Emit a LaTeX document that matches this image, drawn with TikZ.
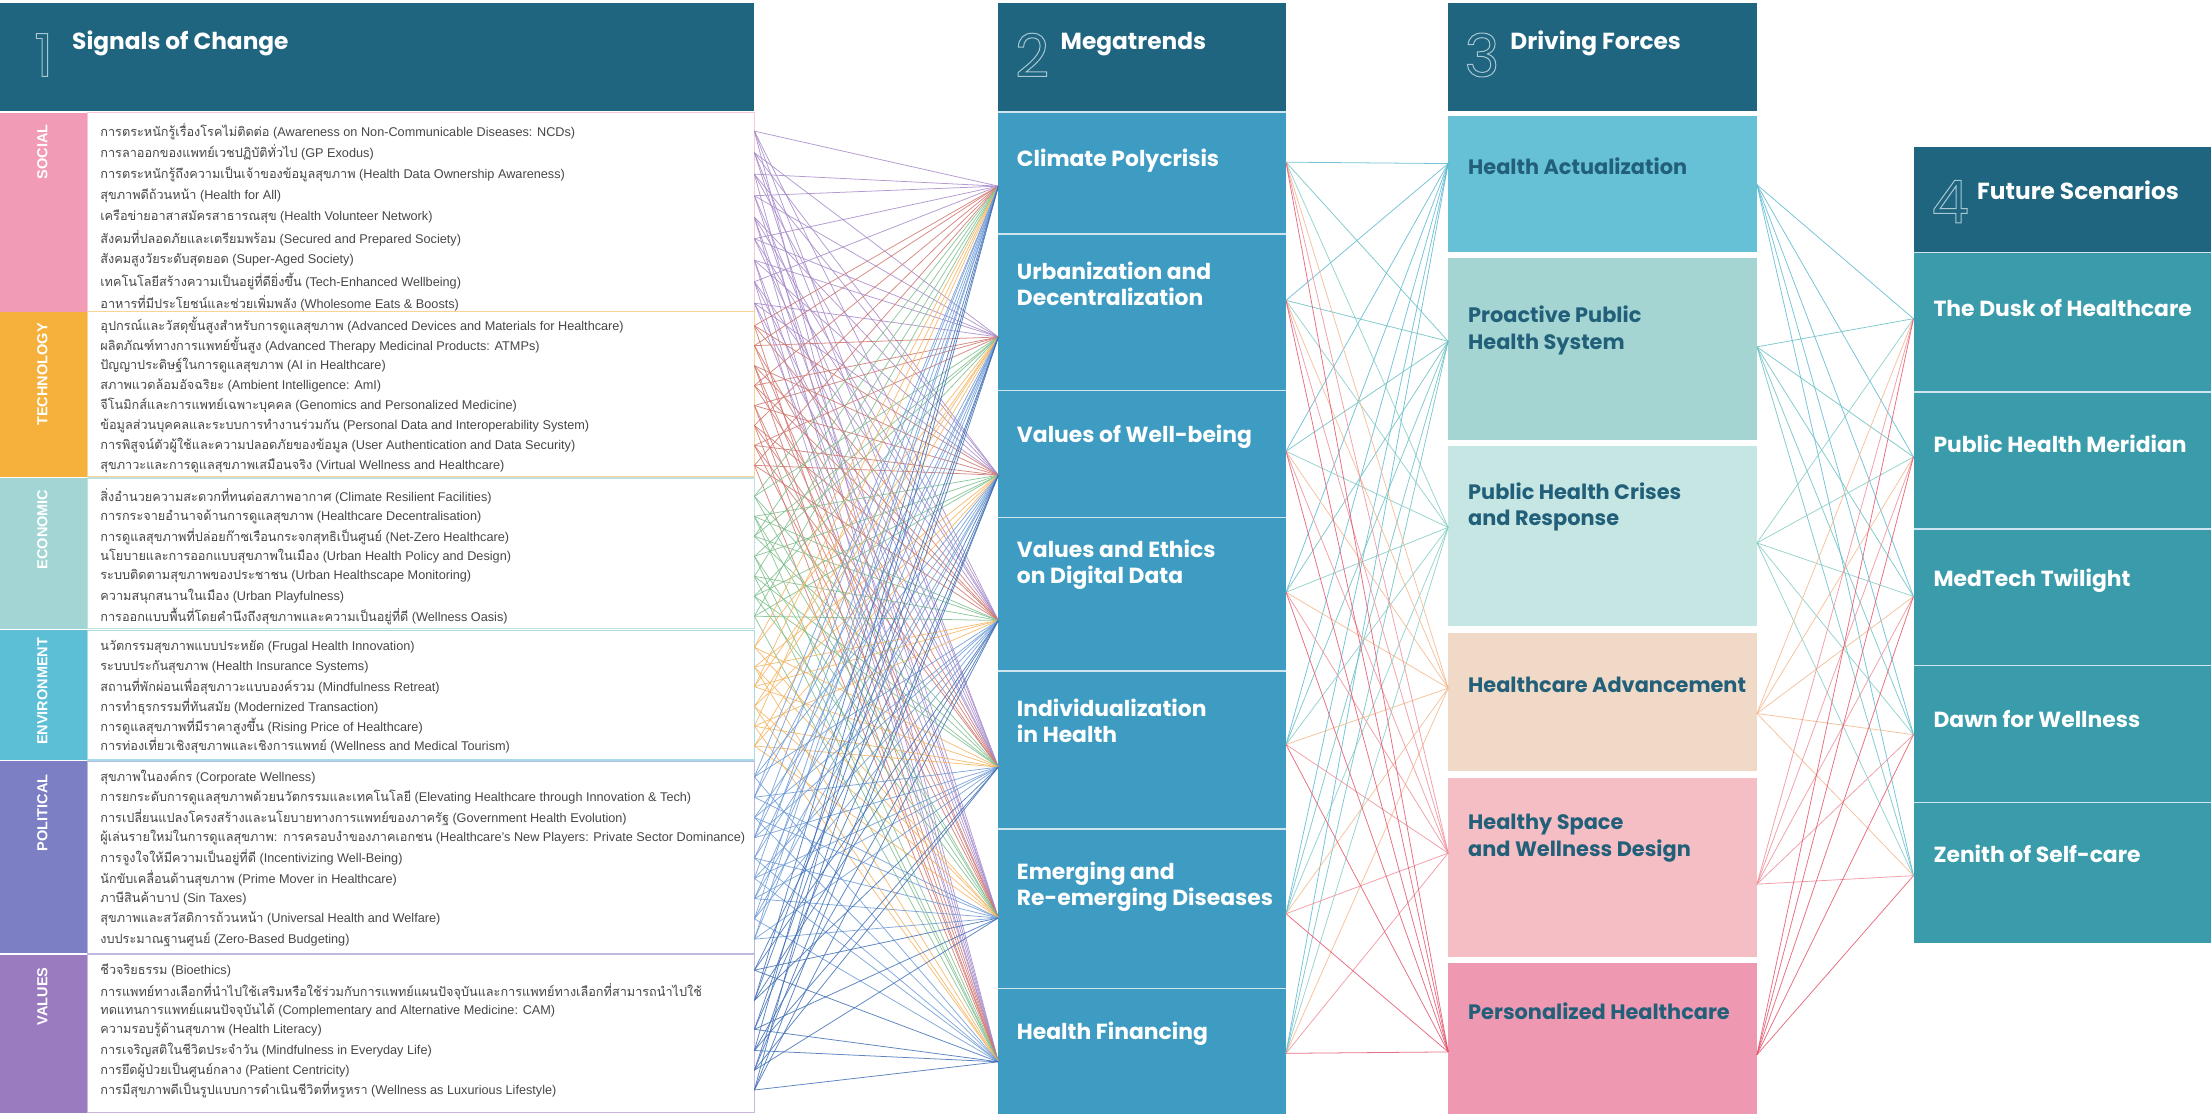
\documentclass[tikz,border=0pt]{standalone}
\usepackage{fontspec}
\setmainfont{Liberation Sans}
\newfontfamily\thaifont[Script=Thai]{Loma}
\newfontfamily\headfont{Poppins}
\usetikzlibrary{positioning}

% colours
\definecolor{headcol}{HTML}{1F6580}
\definecolor{numline}{HTML}{A9C8D4}
\definecolor{itemgray}{HTML}{474747}
\definecolor{soccol}{HTML}{F29BB6}
\definecolor{teccol}{HTML}{F6B13D}
\definecolor{ecocol}{HTML}{A3D5D4}
\definecolor{envcol}{HTML}{5CBFD6}
\definecolor{polcol}{HTML}{7C7FC3}
\definecolor{valcol}{HTML}{9B7BBF}
\definecolor{megacol}{HTML}{3E9CC2}
\definecolor{futcol}{HTML}{3A9CAB}
\definecolor{hacol}{HTML}{66C1D6}
\definecolor{procol}{HTML}{A4D5D3}
\definecolor{phccol}{HTML}{C6E6E4}
\definecolor{hcacol}{HTML}{F1D9C8}
\definecolor{hscol}{HTML}{F4BEC4}
\definecolor{phcol}{HTML}{EF98B1}
\definecolor{dftext}{HTML}{22607A}
\definecolor{linesoc}{HTML}{A68AC9}
\definecolor{linetec}{HTML}{D0766F}
\definecolor{lineeco}{HTML}{7FBE8C}
\definecolor{lineenv}{HTML}{F4B45F}
\definecolor{linepol}{HTML}{6E9BD6}
\definecolor{lineval}{HTML}{4070B5}
\definecolor{lineha}{HTML}{5DB9D0}
\definecolor{linepro}{HTML}{6CC0C4}
\definecolor{linephc}{HTML}{86CCC6}
\definecolor{linehca}{HTML}{F2B88C}
\definecolor{linehs}{HTML}{EE8F99}
\definecolor{lineph}{HTML}{E2566D}

\newcommand{\sig}[2]{{\thaifont #1} (#2)}
\newcommand{\outl}[1]{\special{pdf:literal direct 1 Tr 0.7 w}#1\special{pdf:literal direct 0 Tr}}

\tikzset{
  box/.style={anchor=north west, inner sep=0, outer sep=0},
  item/.style={anchor=west, inner sep=0, align=left, text=itemgray, font=\fontsize{9}{13}\selectfont},
  sidetxt/.style={rotate=90, anchor=east, inner sep=0, text=white, font=\bfseries\fontsize{10.3}{11}\selectfont},
  headtxt/.style={anchor=west, inner sep=0, text=white, font=\headfont\bfseries\fontsize{16.5}{18}\selectfont},
  numtxt/.style={inner sep=0, text=numline, font=\headfont\fontsize{42}{42}\selectfont},
  megatxt/.style={anchor=west, inner sep=0, align=left, text=white, font=\headfont\bfseries\fontsize{15.5}{18.5}\selectfont},
  dftxt/.style={anchor=west, inner sep=0, align=left, text=dftext, font=\headfont\bfseries\fontsize{14.8}{19}\selectfont},
  futtxt/.style={anchor=west, inner sep=0, text=white, font=\headfont\bfseries\fontsize{15.5}{18}\selectfont},
  sepline/.style={white!75!megacol, line width=1.2},
  link/.style={line width=0.55, opacity=0.85}
}

\begin{document}
\begin{tikzpicture}[x=1pt,y=-1pt]
\useasboundingbox (0,0) rectangle (1568,790);

% 1 signals of change
\node[box, fill=headcol, minimum width=535, minimum height=77] (h1) at (0,2) {};
\node[numtxt] (n1) at (31,39) {\outl{1}};
\node[headtxt] (h1t) at (51,31) {Signals of Change};

\node[box, fill=white, draw=soccol!55!white, line width=0.8, minimum width=473, minimum height=141] (socbox) at (62,80) {};
\fill[soccol] (0,80) rectangle (62,221);
\node[sidetxt] (socl) at (30,88) {SOCIAL};
\node[item] (soc1) at (71,93) {\sig{การตระหนักรู้เรื่องโรคไม่ติดต่อ}{Awareness on Non-Communicable Diseases: NCDs}};
\node[item] (soc2) at (71,108.3) {\sig{การลาออกของแพทย์เวชปฏิบัติทั่วไป}{GP Exodus}};
\node[item] (soc3) at (71,123.5) {\sig{การตระหนักรู้ถึงความเป็นเจ้าของข้อมูลสุขภาพ}{Health Data Ownership Awareness}};
\node[item] (soc4) at (71,138.8) {\sig{สุขภาพดีถ้วนหน้า}{Health for All}};
\node[item] (soc5) at (71,154) {\sig{เครือข่ายอาสาสมัครสาธารณสุข}{Health Volunteer Network}};
\node[item] (soc6) at (71,169.3) {\sig{สังคมที่ปลอดภัยและเตรียมพร้อม}{Secured and Prepared Society}};
\node[item] (soc7) at (71,184.5) {\sig{สังคมสูงวัยระดับสุดยอด}{Super-Aged Society}};
\node[item] (soc8) at (71,199.8) {\sig{เทคโนโลยีสร้างความเป็นอยู่ที่ดียิ่งขึ้น}{Tech-Enhanced Wellbeing}};
\node[item] (soc9) at (71,215) {\sig{อาหารที่มีประโยชน์และช่วยเพิ่มพลัง}{Wholesome Eats \& Boosts}};

\node[box, fill=white, draw=teccol!55!white, line width=0.8, minimum width=473, minimum height=117] (tecbox) at (62,221) {};
\fill[teccol] (0,221) rectangle (62,338);
\node[sidetxt] (tecl) at (30,229) {TECHNOLOGY};
\node[item] (tec1) at (71,231) {\sig{อุปกรณ์และวัสดุขั้นสูงสำหรับการดูแลสุขภาพ}{Advanced Devices and Materials for Healthcare}};
\node[item] (tec2) at (71,245.1) {\sig{ผลิตภัณฑ์ทางการแพทย์ขั้นสูง}{Advanced Therapy Medicinal Products: ATMPs}};
\node[item] (tec3) at (71,259.3) {\sig{ปัญญาประดิษฐ์ในการดูแลสุขภาพ}{AI in Healthcare}};
\node[item] (tec4) at (71,273.4) {\sig{สภาพแวดล้อมอัจฉริยะ}{Ambient Intelligence: AmI}};
\node[item] (tec5) at (71,287.6) {\sig{จีโนมิกส์และการแพทย์เฉพาะบุคคล}{Genomics and Personalized Medicine}};
\node[item] (tec6) at (71,301.7) {\sig{ข้อมูลส่วนบุคคลและระบบการทำงานร่วมกัน}{Personal Data and Interoperability System}};
\node[item] (tec7) at (71,315.9) {\sig{การพิสูจน์ตัวผู้ใช้และความปลอดภัยของข้อมูล}{User Authentication and Data Security}};
\node[item] (tec8) at (71,330) {\sig{สุขภาวะและการดูแลสุขภาพเสมือนจริง}{Virtual Wellness and Healthcare}};

\node[box, fill=white, draw=ecocol!70!white, line width=0.8, minimum width=473, minimum height=107] (ecobox) at (62,339) {};
\fill[ecocol] (0,339) rectangle (62,446);
\node[sidetxt] (ecol) at (30,347) {ECONOMIC};
\node[item] (eco1) at (71,352) {\sig{สิ่งอำนวยความสะดวกที่ทนต่อสภาพอากาศ}{Climate Resilient Facilities}};
\node[item] (eco2) at (71,366.2) {\sig{การกระจายอำนาจด้านการดูแลสุขภาพ}{Healthcare Decentralisation}};
\node[item] (eco3) at (71,380.3) {\sig{การดูแลสุขภาพที่ปล่อยก๊าซเรือนกระจกสุทธิเป็นศูนย์}{Net-Zero Healthcare}};
\node[item] (eco4) at (71,394.5) {\sig{นโยบายและการออกแบบสุขภาพในเมือง}{Urban Health Policy and Design}};
\node[item] (eco5) at (71,408.7) {\sig{ระบบติดตามสุขภาพของประชาชน}{Urban Healthscape Monitoring}};
\node[item] (eco6) at (71,422.8) {\sig{ความสนุกสนานในเมือง}{Urban Playfulness}};
\node[item] (eco7) at (71,437) {\sig{การออกแบบพื้นที่โดยคำนึงถึงสุขภาพและความเป็นอยู่ที่ดี}{Wellness Oasis}};

\node[box, fill=white, draw=envcol!55!white, line width=0.8, minimum width=473, minimum height=92] (envbox) at (62,447) {};
\fill[envcol] (0,447) rectangle (62,539);
\node[sidetxt] (envl) at (30,452) {ENVIRONMENT};
\node[item] (env1) at (71,459) {\sig{นวัตกรรมสุขภาพแบบประหยัด}{Frugal Health Innovation}};
\node[item] (env2) at (71,473) {\sig{ระบบประกันสุขภาพ}{Health Insurance Systems}};
\node[item] (env3) at (71,487) {\sig{สถานที่พักผ่อนเพื่อสุขภาวะแบบองค์รวม}{Mindfulness Retreat}};
\node[item] (env4) at (71,501) {\sig{การทำธุรกรรมที่ทันสมัย}{Modernized Transaction}};
\node[item] (env5) at (71,515) {\sig{การดูแลสุขภาพที่มีราคาสูงขึ้น}{Rising Price of Healthcare}};
\node[item] (env6) at (71,529) {\sig{การท่องเที่ยวเชิงสุขภาพและเชิงการแพทย์}{Wellness and Medical Tourism}};

\node[box, fill=white, draw=polcol!55!white, line width=0.8, minimum width=473, minimum height=136] (polbox) at (62,540) {};
\fill[polcol] (0,540) rectangle (62,676);
\node[sidetxt] (poll) at (30,549) {POLITICAL};
\node[item] (pol1) at (71,551) {\sig{สุขภาพในองค์กร}{Corporate Wellness}};
\node[item] (pol2) at (71,565.4) {\sig{การยกระดับการดูแลสุขภาพด้วยนวัตกรรมและเทคโนโลยี}{Elevating Healthcare through Innovation \& Tech}};
\node[item] (pol3) at (71,579.8) {\sig{การเปลี่ยนแปลงโครงสร้างและนโยบายทางการแพทย์ของภาครัฐ}{Government Health Evolution}};
\node[item] (pol4) at (71,594.1) {\sig{ผู้เล่นรายใหม่ในการดูแลสุขภาพ: การครอบงำของภาคเอกชน}{Healthcare’s New Players: Private Sector Dominance}};
\node[item] (pol5) at (71,608.5) {\sig{การจูงใจให้มีความเป็นอยู่ที่ดี}{Incentivizing Well-Being}};
\node[item] (pol6) at (71,622.9) {\sig{นักขับเคลื่อนด้านสุขภาพ}{Prime Mover in Healthcare}};
\node[item] (pol7) at (71,637.3) {\sig{ภาษีสินค้าบาป}{Sin Taxes}};
\node[item] (pol8) at (71,651.6) {\sig{สุขภาพและสวัสดิการถ้วนหน้า}{Universal Health and Welfare}};
\node[item] (pol9) at (71,666) {\sig{งบประมาณฐานศูนย์}{Zero-Based Budgeting}};

\node[box, fill=white, draw=valcol!55!white, line width=0.8, minimum width=473, minimum height=112] (valbox) at (62,677) {};
\fill[valcol] (0,677) rectangle (62,789);
\node[sidetxt] (vall) at (30,686) {VALUES};
\node[item] (val1) at (71,688) {\sig{ชีวจริยธรรม}{Bioethics}};
\node[item] (val2) at (71,709.5) {{\thaifont การแพทย์ทางเลือกที่นำไปใช้เสริมหรือใช้ร่วมกับการแพทย์แผนปัจจุบันและการแพทย์ทางเลือกที่สามารถนำไปใช้}\\\sig{ทดแทนการแพทย์แผนปัจจุบันได้}{Complementary and Alternative Medicine: CAM}};
\node[item] (val3) at (71,730) {\sig{ความรอบรู้ด้านสุขภาพ}{Health Literacy}};
\node[item] (val4) at (71,745) {\sig{การเจริญสติในชีวิตประจำวัน}{Mindfulness in Everyday Life}};
\node[item] (val5) at (71,759) {\sig{การยึดผู้ป่วยเป็นศูนย์กลาง}{Patient Centricity}};
\node[item] (val6) at (71,773) {\sig{การมีสุขภาพดีเป็นรูปแบบการดำเนินชีวิตที่หรูหรา}{Wellness as Luxurious Lifestyle}};

% 2 megatrends
\node[box, fill=headcol, minimum width=204, minimum height=77] (h2) at (708,2) {};
\node[numtxt] (n2) at (732,39) {\outl{2}};
\node[headtxt] (h2t) at (752,31) {Megatrends};
\node[box, fill=megacol, minimum width=204, minimum height=710] (mtcol) at (708,80) {};
\draw[sepline] (708,79.5) -- (912,79.5);
\foreach \yy in {166,277,367,476,588,701}
  \draw[sepline] (708,\yy) -- (912,\yy);
\node[megatxt] (mt1) at (721,114) {Climate Polycrisis};
\node[megatxt] (mt2) at (721,201.5) {Urbanization and\\Decentralization};
\node[megatxt] (mt3) at (721,310) {Values of Well-being};
\node[megatxt] (mt4) at (721,400.5) {Values and Ethics\\on Digital Data};
\node[megatxt] (mt5) at (721,511) {Individualization\\in Health};
\node[megatxt] (mt6) at (721,629) {Emerging and\\Re-emerging Diseases};
\node[megatxt] (mt7) at (721,733) {Health Financing};

% 3 driving forces
\node[box, fill=headcol, minimum width=219, minimum height=77] (h3) at (1027,2) {};
\node[numtxt] (n3) at (1051,39) {\outl{3}};
\node[headtxt] (h3t) at (1071,31) {Driving Forces};
\node[box, fill=hacol, minimum width=219, minimum height=97] (df1) at (1027,82) {};
\node[box, fill=procol, minimum width=219, minimum height=129] (df2) at (1027,183) {};
\node[box, fill=phccol, minimum width=219, minimum height=128] (df3) at (1027,316) {};
\node[box, fill=hcacol, minimum width=219, minimum height=98] (df4) at (1027,449) {};
\node[box, fill=hscol, minimum width=219, minimum height=127] (df5) at (1027,552) {};
\node[box, fill=phcol, minimum width=219, minimum height=107] (df6) at (1027,683) {};
\node[dftxt] (df1t) at (1041,118) {Health Actualization};
\node[dftxt] (df2t) at (1041,234.5) {Proactive Public\\Health System};
\node[dftxt] (df3t) at (1041,359.5) {Public Health Crises\\and Response};
\node[dftxt] (df4t) at (1041,486) {Healthcare Advancement};
\node[dftxt] (df5t) at (1041,594.5) {Healthy Space\\and Wellness Design};
\node[dftxt] (df6t) at (1041,717) {Personalized Healthcare};

% 4 future scenarios
\node[box, fill=headcol, minimum width=211, minimum height=75] (h4) at (1357,104) {};
\node[numtxt] (n4) at (1383,143) {\outl{4}};
\node[headtxt] (h4t) at (1402,135) {Future Scenarios};
\node[box, fill=futcol, minimum width=211, minimum height=490] (fscol) at (1357,179) {};
\foreach \yy in {179,278,375,472,569}
  \draw[sepline] (1357,\yy) -- (1568,\yy);
\node[futtxt] (fs1) at (1371,218.5) {The Dusk of Healthcare};
\node[futtxt] (fs2) at (1371,315) {Public Health Meridian};
\node[futtxt] (fs3) at (1371,412) {MedTech Twilight};
\node[futtxt] (fs4) at (1371,510) {Dawn for Wellness};
\node[futtxt] (fs5) at (1371,605.5) {Zenith of Self-care};

% connector ends
\coordinate (mi1) at (708,132);  \coordinate (mo1) at (912,115);
\coordinate (mi2) at (708,239);  \coordinate (mo2) at (912,213);
\coordinate (mi3) at (708,337);  \coordinate (mo3) at (912,320);
\coordinate (mi4) at (708,440);  \coordinate (mo4) at (912,420);
\coordinate (mi5) at (708,544);  \coordinate (mo5) at (912,528);
\coordinate (mi6) at (708,651);  \coordinate (mo6) at (912,648);
\coordinate (mi7) at (708,753);  \coordinate (mo7) at (912,747);
\coordinate (di1) at (1027,116); \coordinate (do1) at (1246,131);
\coordinate (di2) at (1027,242); \coordinate (do2) at (1246,246);
\coordinate (di3) at (1027,374); \coordinate (do3) at (1246,385);
\coordinate (di4) at (1027,488); \coordinate (do4) at (1246,506);
\coordinate (di5) at (1027,605); \coordinate (do5) at (1246,627);
\coordinate (di6) at (1027,746); \coordinate (do6) at (1246,748);
\coordinate (fi1) at (1357,226);
\coordinate (fi2) at (1357,324);
\coordinate (fi3) at (1357,423);
\coordinate (fi4) at (1357,521);
\coordinate (fi5) at (1357,621);

% signals -> megatrends
\foreach \grp/\n/\col/\off in {soc/9/linesoc/0, tec/8/linetec/9, eco/7/lineeco/17, env/6/lineenv/24, pol/9/linepol/30, val/6/lineval/39}
  \foreach \i in {1,...,\n}
    \foreach \m in {1,...,7}{
      \pgfmathtruncatemacro{\hit}{mod(3*(\i+\off)+5*\m,7)<4}
      \ifnum\hit=1 \draw[link, \col] (\grp\i -| \grp box.east) -- (mi\m); \fi
    }

% megatrends -> driving forces
\foreach \d/\col in {1/lineha, 2/linepro, 3/linephc, 4/linehca, 5/linehs, 6/lineph}
  \foreach \m in {1,...,7}
    \draw[link, \col] (mo\m) -- (di\d);

% driving forces -> future scenarios
\foreach \d/\col in {1/lineha, 2/linepro, 3/linephc, 4/linehca, 5/linehs, 6/lineph}
  \foreach \f in {1,...,5}
    \draw[link, \col] (do\d) -- (fi\f);
\end{tikzpicture}
\end{document}
